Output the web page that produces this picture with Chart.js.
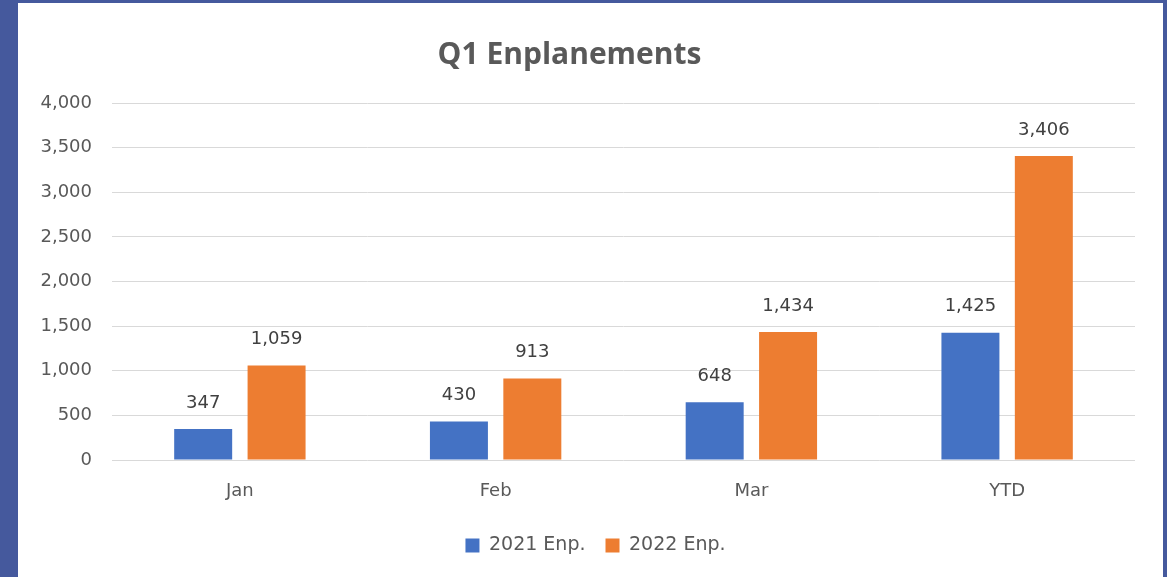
<!DOCTYPE html>
<html>
<head>
<meta charset="utf-8">
<script src="https://cdn.jsdelivr.net/npm/chart.js@4/dist/chart.umd.min.js"></script>
<style>
    html, body { margin: 0; padding: 0; background: #ffffff; }
    #frame {
        width: 1145px; height: 574px;
        border-left: 18px solid #45599d;
        border-top: 3px solid #45599d;
        border-right: 4px solid #45599d;
        background: #ffffff;
    }
    #wrap { width: 1145px; height: 574px; position: relative; }
</style>
</head>
<body>
<div id="frame"><div id="wrap"><canvas id="enplanements"></canvas></div></div>
<script>
const blue = "#4472c4";
const orange = "#ed7d31";
const grey = "#595959";
const font = "'DejaVu Sans', sans-serif";

const categories = ["Jan", "Feb", "Mar", "YTD"];
const enp2021 = [347, 430, 648, 1425];
const enp2022 = [1059, 913, 1434, 3406];
const yTicks = [0, 500, 1000, 1500, 2000, 2500, 3000, 3500, 4000];

// Value labels above every bar
const barLabels = {
    id: "barLabels",
    afterDatasetsDraw(chart) {
        const ctx = chart.ctx;
        ctx.save();
        ctx.font = "18px " + font;
        ctx.fillStyle = "#404040";
        ctx.textAlign = "center";
        ctx.textBaseline = "middle";
        chart.data.datasets.forEach((ds, i) => {
            chart.getDatasetMeta(i).data.forEach((bar, j) => {
                ctx.fillText(ds.data[j].toLocaleString("en-US"), bar.x, bar.y - 26);
            });
        });
        ctx.restore();
    }
};

// Legend sits a bit right of the title in the original
const legendShift = {
    id: "legendShift",
    afterLayout(chart) {
        chart.legend.left += 26;
        chart.legend.right += 26;
    }
};

const ctx = document.getElementById("enplanements");

new Chart(ctx, {
    type: "bar",
    data: {
        labels: categories,
        datasets: [{
            label: "2021 Enp.",
            data: enp2021,
            backgroundColor: blue
        }, {
            label: "2022 Enp.",
            data: enp2022,
            backgroundColor: orange
        }]
    },
    options: {
        responsive: true,
        maintainAspectRatio: false,
        animation: false,
        categoryPercentage: 0.574,
        barPercentage: 0.79,
        layout: { padding: { left: -14, right: 28, top: 0, bottom: 12 } },
        plugins: {
            title: {
                display: true,
                text: "Q1 Enplanements",
                color: grey,
                font: { family: "'Open Sans', sans-serif", size: 30, weight: "700" },
                padding: { top: 34, bottom: 30 }
            },
            legend: {
                position: "bottom",
                labels: {
                    color: grey,
                    font: { family: font, size: 19 },
                    boxWidth: 14,
                    boxHeight: 14,
                    padding: 20
                }
            },
            tooltip: { enabled: false }
        },
        scales: {
            x: {
                grid: { display: false, drawTicks: false },
                border: { display: false },
                ticks: {
                    color: grey,
                    font: { family: font, size: 18 },
                    padding: 21
                },
                afterFit(scale) { scale.height = 56; }
            },
            y: {
                min: 0,
                max: 4000,
                afterBuildTicks(axis) {
                    axis.ticks = yTicks.map(v => ({ value: v }));
                },
                afterFit(scale) { scale.width = 108; },
                grid: { color: "#d9d9d9", drawTicks: false },
                border: { display: false },
                ticks: {
                    color: grey,
                    font: { family: font, size: 18 },
                    padding: 20,
                    callback: v => v.toLocaleString("en-US")
                }
            }
        }
    },
    plugins: [barLabels, legendShift]
});
</script>
</body>
</html>
